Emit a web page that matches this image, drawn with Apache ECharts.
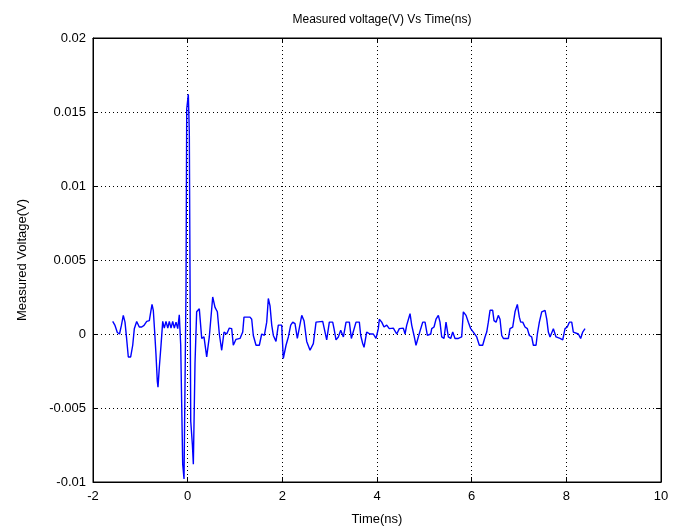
<!DOCTYPE html>
<html>
<head>
<meta charset="utf-8">
<script src="https://cdn.jsdelivr.net/npm/echarts@6/dist/echarts.min.js"></script>
<style>html,body{margin:0;padding:0;background:#fff;}#c{width:682px;height:531px;}</style>
</head>
<body>
<div id="c"></div>
<script>
var titleText = 'Measured voltage(V) Vs Time(ns)';
var xName = 'Time(ns)';
var yName = 'Measured Voltage(V)';
var xTicks = [-2, 0, 2, 4, 6, 8, 10];
var yTicks = [-0.01, -0.005, 0, 0.005, 0.01, 0.015, 0.02];
var yTickLabels = ['-0.01', '-0.005', '0', '0.005', '0.01', '0.015', '0.02'];

var timeNs = [
 -1.584,-1.535,-1.486,-1.44,-1.40,-1.36,-1.324,-1.29,-1.254,-1.204,-1.161,-1.127,-1.077,-1.022,-0.97,-0.922,-0.865,-0.81,-0.78,-0.753,-0.726,-0.697,-0.669,-0.641,-0.627,-0.60,-0.563,-0.527,-0.494,-0.458,-0.42,-0.388,-0.352,-0.316,-0.282,-0.246,-0.21,-0.177,-0.147,-0.126,-0.105,-0.077,-0.05,-0.035,-0.02,0.014,0.035,0.05,0.065,0.10,0.12,0.155,0.19,0.246,0.297,0.345,0.402,0.457,0.529,
 0.578,0.627,0.669,0.719,0.768,0.825,0.88,0.93,0.964,1.021,1.106,1.163,1.19,1.317,1.353,1.387,1.444,1.514,1.564,1.62,1.67,1.704,1.74,1.776,1.81,1.866,1.915,1.987,2.02,2.078,2.127,2.177,2.22,2.268,2.317,2.359,2.41,2.458,2.515,2.585,2.655,2.712,
 2.853,2.902,2.937,2.993,3.064,3.092,3.134,3.183,3.233,3.29,3.346,3.416,3.458,3.50,3.557,3.627,3.656,3.698,3.726,3.782,3.852,3.922,3.979,4.028,4.049,4.10,4.148,4.205,4.26,4.345,4.417,4.472,4.556,4.592,4.628,4.698,4.733,4.782,4.824,4.873,4.924,4.966,5.015,5.064,5.135,
 5.156,5.205,5.247,5.296,5.331,5.367,5.416,5.458,5.507,5.557,5.60,5.648,5.719,5.789,5.824,5.881,5.93,5.98,6.035,6.107,6.162,6.233,6.282,6.318,6.352,6.388,6.444,6.472,6.515,6.563,6.599,6.635,6.67,6.775,6.81,6.867,6.916,6.965,7.007,7.036,7.079,7.127,7.176,7.219,7.268,7.303,7.36,7.388,7.43,7.48,7.55,7.586,7.62,7.656,7.726,7.782,7.867,7.924,7.972,8.02,8.064,8.114,8.148,8.254,8.303,8.346,8.395
];
var voltageV = [
 0.00085,0.00058,0.0001,0,0.00058,0.00126,0.0008,-0.0003,-0.00155,-0.00155,-0.00076,0.00036,0.00085,0.00047,0.00047,0.00058,0.00085,0.0009,0.0015,0.002,0.0016,0.00013,-0.0014,-0.0032,-0.0036,-0.0023,-0.00076,0.00085,0.0004,0.00085,0.0004,0.00085,0.0004,0.00085,0.0004,0.0008,0.00036,0.0013,-0.00076,-0.0048,-0.0088,-0.0098,-0.0099,0.003,0.0152,0.0162,0.0136,0.0037,-0.0059,-0.0075,-0.0088,-0.002,0.0015,0.0017,-0.0003,-0.0002,-0.00155,-0.0002,0.0025,
 0.0018,0.0015,0,-0.0011,0.00013,0,0.0004,0.00036,-0.00076,-0.00036,-0.0003,0.00013,0.00114,0.00114,0.001,-0.0001,-0.00076,-0.00076,0,-0.0001,0.0008,0.0024,0.0019,0.0006,-0.0001,-0.0005,0.0006,0.0006,-0.00166,-0.00076,-0.0002,0.0006,0.0008,0.0007,-0.0003,-0.0004,0.00126,0.0009,-0.0005,-0.0011,-0.00065,0.0008,
 0.00085,0.00013,-0.0004,0.0008,0.0008,0.00036,-0.0004,-0.0002,0.00025,-0.0002,0.0008,0.0008,-0.0003,-0.0004,0.0008,0.0008,-0.0001,-0.00065,-0.0009,0.00013,0,0,-0.0003,0.00036,0.001,0.0008,0.00047,0.0006,0.00036,0.0004,0,0.00036,0.0004,0,0.0006,0.00137,0.0006,-0.0001,-0.00076,-0.0002,0.00036,0.0008,0.0008,-0.0001,0,
 0.00036,0.00047,0.001,0.00126,0.0008,-0.0002,-0.0003,0.0008,-0.0002,-0.0003,0.00013,-0.0003,-0.0003,-0.0002,0.0015,0.00126,0.0008,0.00036,0.00013,-0.0002,-0.00076,-0.00076,-0.0002,0.00013,0.0008,0.0016,0.0016,0.0009,0.0008,0.00126,0.001,-0.0001,-0.0003,-0.0003,0.00036,0.00047,0.0015,0.002,0.00114,0.0008,0.0008,0.00047,0.00036,-0.0001,-0.0002,-0.00076,-0.00076,0,0.0008,0.0015,0.0016,0.001,0.00013,-0.0002,0.00036,-0.0002,-0.0003,-0.0004,0.00036,0.00047,0.0008,0.0008,0.00013,0,-0.0003,0.00013,0.00036
];

var seriesData = timeNs.map(function (t, i) { return [t, voltageV[i]]; });
var font = 'Liberation Sans, Arial, sans-serif';

function fmtY(v) {
  for (var i = 0; i < yTicks.length; i++) {
    if (Math.abs(v - yTicks[i]) < 1e-9) return yTickLabels[i];
  }
  return '';
}

var chart = echarts.init(document.getElementById('c'), null, {renderer: 'canvas'});
var common = {
  axisTick: {show: true, inside: true, length: 5, lineStyle: {color: '#000'}},
  axisLine: {show: true, onZero: false, lineStyle: {color: '#000', width: 1}}
};
chart.setOption({
  backgroundColor: '#fff',
  animation: false,
  title: {
    text: titleText, left: 377, top: 9, textAlign: 'center',
    textStyle: {fontFamily: font, fontSize: 12, fontWeight: 'normal', color: '#000'}
  },
  grid: {left: 93, right: 21, top: 38, bottom: 47, show: true, borderColor: '#000', borderWidth: 1, containLabel: false},
  xAxis: [{
    type: 'value', min: xTicks[0], max: xTicks[xTicks.length - 1], interval: 2,
    position: 'bottom',
    name: xName, nameLocation: 'middle', nameGap: 31,
    nameTextStyle: {fontFamily: font, fontSize: 13, color: '#000'},
    axisLine: common.axisLine, axisTick: common.axisTick,
    axisLabel: {fontFamily: font, fontSize: 13, color: '#000', margin: 8},
    splitLine: {show: true, lineStyle: {color: '#000', type: [1, 3], width: 1}}
  }, {
    type: 'value', min: xTicks[0], max: xTicks[xTicks.length - 1], interval: 2,
    position: 'top',
    axisLine: common.axisLine, axisTick: common.axisTick,
    axisLabel: {show: false}, splitLine: {show: false}
  }],
  yAxis: [{
    type: 'value', min: yTicks[0], max: yTicks[yTicks.length - 1], interval: 0.005,
    position: 'left',
    name: yName, nameLocation: 'middle', nameGap: 64, nameRotate: 90,
    nameTextStyle: {fontFamily: font, fontSize: 13, color: '#000'},
    axisLine: common.axisLine, axisTick: common.axisTick,
    axisLabel: {fontFamily: font, fontSize: 13, color: '#000', margin: 7, formatter: fmtY},
    splitLine: {show: true, lineStyle: {color: '#000', type: [1, 3], width: 1}}
  }, {
    type: 'value', min: yTicks[0], max: yTicks[yTicks.length - 1], interval: 0.005,
    position: 'right',
    axisLine: common.axisLine, axisTick: common.axisTick,
    axisLabel: {show: false}, splitLine: {show: false}
  }],
  series: [{
    type: 'line', xAxisIndex: 0, yAxisIndex: 0,
    data: seriesData, showSymbol: false, symbol: 'none',
    lineStyle: {color: '#0000ff', width: 1.4},
    clip: true
  }]
});
</script>
</body>
</html>
